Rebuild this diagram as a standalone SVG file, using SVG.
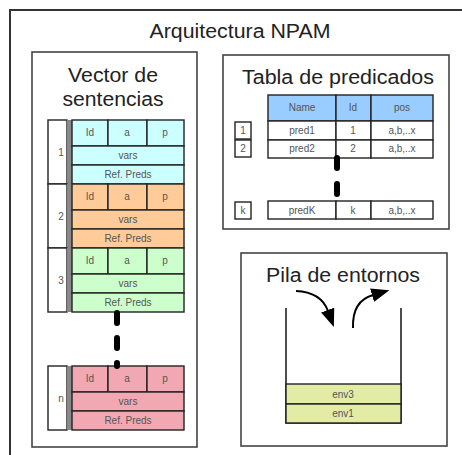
<svg xmlns="http://www.w3.org/2000/svg" width="462" height="455" viewBox="0 0 462 455">
<style>
.frame{fill:#fff;stroke:#333;stroke-width:2}
.panel{fill:#fff;stroke:#444;stroke-width:1.6}
.cell{stroke:#222;stroke-width:1.4}
.idx{fill:#fff;stroke:#222;stroke-width:1.4}
.bar{fill:#888}
.big{font-family:"Liberation Sans",Arial,sans-serif;font-size:20px;fill:#222;text-anchor:middle}
.sm{font-family:"Liberation Sans",Arial,sans-serif;font-size:10px;fill:#555;text-anchor:middle}
.cy{fill:#ccffff}.or{fill:#ffcc99}.gr{fill:#ccffcc}.pk{fill:#f2a8b2}
.hd{fill:#99ccff}.wh{fill:#fff}.env{fill:#e2eca4}
.dots{stroke:#000;stroke-width:6;stroke-linecap:round;fill:none}
.arr{stroke:#000;stroke-width:2;fill:none;marker-end:url(#head)}
</style>
<defs>
<marker id="head" markerUnits="userSpaceOnUse" markerWidth="19" markerHeight="15" refX="1" refY="7" orient="auto">
<path d="M0,0 L18,7 L0,14 z" fill="#000"/>
</marker>
</defs>
<rect class="frame" x="10" y="10" width="470" height="470"/>
<text class="big" x="240" y="38" textLength="181" lengthAdjust="spacingAndGlyphs">Arquitectura NPAM</text>

<g id="vector">
<rect class="panel" x="32" y="52" width="165" height="395"/>
<text class="big" x="113" y="82" textLength="90" lengthAdjust="spacingAndGlyphs">Vector de</text>
<text class="big" x="113" y="106" textLength="101" lengthAdjust="spacingAndGlyphs">sentencias</text>
</g>

<g id="s1">
<rect class="idx" x="48" y="120" width="19" height="64"/><rect class="bar" x="67" y="120" width="5" height="64"/>
<text class="sm" x="61" y="156">1</text>
<rect class="cell cy" x="72" y="120" width="36" height="26"/><rect class="cell cy" x="108" y="120" width="39" height="26"/><rect class="cell cy" x="147" y="120" width="37" height="26"/>
<rect class="cell cy" x="72" y="146" width="112" height="19"/><rect class="cell cy" x="72" y="165" width="112" height="19"/>
<text class="sm" x="90" y="136">Id</text><text class="sm" x="127" y="136">a</text><text class="sm" x="165" y="136">p</text>
<text class="sm" x="128" y="159">vars</text><text class="sm" x="128" y="178">Ref. Preds</text>
</g>
<g id="s2">
<rect class="idx" x="48" y="184" width="19" height="64"/><rect class="bar" x="67" y="184" width="5" height="64"/>
<text class="sm" x="61" y="220">2</text>
<rect class="cell or" x="72" y="184" width="36" height="26"/><rect class="cell or" x="108" y="184" width="39" height="26"/><rect class="cell or" x="147" y="184" width="37" height="26"/>
<rect class="cell or" x="72" y="210" width="112" height="19"/><rect class="cell or" x="72" y="229" width="112" height="19"/>
<text class="sm" x="90" y="200">Id</text><text class="sm" x="127" y="200">a</text><text class="sm" x="165" y="200">p</text>
<text class="sm" x="128" y="223">vars</text><text class="sm" x="128" y="242">Ref. Preds</text>
</g>
<g id="s3">
<rect class="idx" x="48" y="248" width="19" height="64"/><rect class="bar" x="67" y="248" width="5" height="64"/>
<text class="sm" x="61" y="284">3</text>
<rect class="cell gr" x="72" y="248" width="36" height="26"/><rect class="cell gr" x="108" y="248" width="39" height="26"/><rect class="cell gr" x="147" y="248" width="37" height="26"/>
<rect class="cell gr" x="72" y="274" width="112" height="19"/><rect class="cell gr" x="72" y="293" width="112" height="19"/>
<text class="sm" x="90" y="264">Id</text><text class="sm" x="127" y="264">a</text><text class="sm" x="165" y="264">p</text>
<text class="sm" x="128" y="287">vars</text><text class="sm" x="128" y="306">Ref. Preds</text>
</g>
<g id="sn">
<rect class="idx" x="48" y="366" width="19" height="64"/><rect class="bar" x="67" y="366" width="5" height="64"/>
<text class="sm" x="61" y="402">n</text>
<rect class="cell pk" x="72" y="366" width="36" height="26"/><rect class="cell pk" x="108" y="366" width="39" height="26"/><rect class="cell pk" x="147" y="366" width="37" height="26"/>
<rect class="cell pk" x="72" y="392" width="112" height="19"/><rect class="cell pk" x="72" y="411" width="112" height="19"/>
<text class="sm" x="90" y="382">Id</text><text class="sm" x="127" y="382">a</text><text class="sm" x="165" y="382">p</text>
<text class="sm" x="128" y="405">vars</text><text class="sm" x="128" y="424">Ref. Preds</text>
</g>

<g id="tabla">
<rect class="panel" x="223" y="55" width="226" height="174"/>
<text class="big" x="338" y="84" textLength="192" lengthAdjust="spacingAndGlyphs">Tabla de predicados</text>
<rect class="cell hd" x="268" y="95" width="68" height="26"/><rect class="cell hd" x="336" y="95" width="35" height="26"/><rect class="cell hd" x="371" y="95" width="62" height="26"/>
<text class="sm" x="302" y="111">Name</text><text class="sm" x="353" y="111">Id</text><text class="sm" x="402" y="111">pos</text>
<rect class="cell wh" x="268" y="121" width="68" height="19"/><rect class="cell wh" x="336" y="121" width="35" height="19"/><rect class="cell wh" x="371" y="121" width="62" height="19"/>
<rect class="idx" x="235" y="122" width="16" height="17"/>
<text class="sm" x="243" y="134">1</text><text class="sm" x="302" y="134">pred1</text><text class="sm" x="353" y="134">1</text><text class="sm" x="402" y="134">a,b,..x</text>
<rect class="cell wh" x="268" y="140" width="68" height="18"/><rect class="cell wh" x="336" y="140" width="35" height="18"/><rect class="cell wh" x="371" y="140" width="62" height="18"/>
<rect class="idx" x="235" y="140" width="16" height="17"/>
<text class="sm" x="243" y="152">2</text><text class="sm" x="302" y="152">pred2</text><text class="sm" x="353" y="152">2</text><text class="sm" x="402" y="152">a,b,..x</text>
<rect class="cell wh" x="268" y="201" width="68" height="18"/><rect class="cell wh" x="336" y="201" width="35" height="18"/><rect class="cell wh" x="371" y="201" width="62" height="18"/>
<rect class="idx" x="235" y="202" width="16" height="17"/>
<text class="sm" x="243" y="214">k</text><text class="sm" x="302" y="214">predK</text><text class="sm" x="353" y="214">k</text><text class="sm" x="402" y="214">a,b,..x</text>
</g>

<g id="pila">
<rect class="panel" x="241" y="253" width="206" height="193"/>
<text class="big" x="343" y="282" textLength="154" lengthAdjust="spacingAndGlyphs">Pila de entornos</text>
<path d="M286,308 V423 H401 V308" fill="none" stroke="#222" stroke-width="1.6"/>
<rect class="cell env" x="286" y="384" width="115" height="20"/><rect class="cell env" x="286" y="404" width="115" height="19"/>
<text class="sm" x="343" y="398">env3</text><text class="sm" x="343" y="417">env1</text>
</g>

<g id="connectors">
<line class="dots" x1="117" y1="313" x2="117" y2="366" stroke-dasharray="10 15"/>
<line class="dots" x1="337" y1="158" x2="337" y2="201" stroke-dasharray="10 16"/>
<path class="arr" d="M296,291 Q321,292 328,311"/>
<path class="arr" d="M353,328 Q352,301 373,295"/>
</g>
</svg>
